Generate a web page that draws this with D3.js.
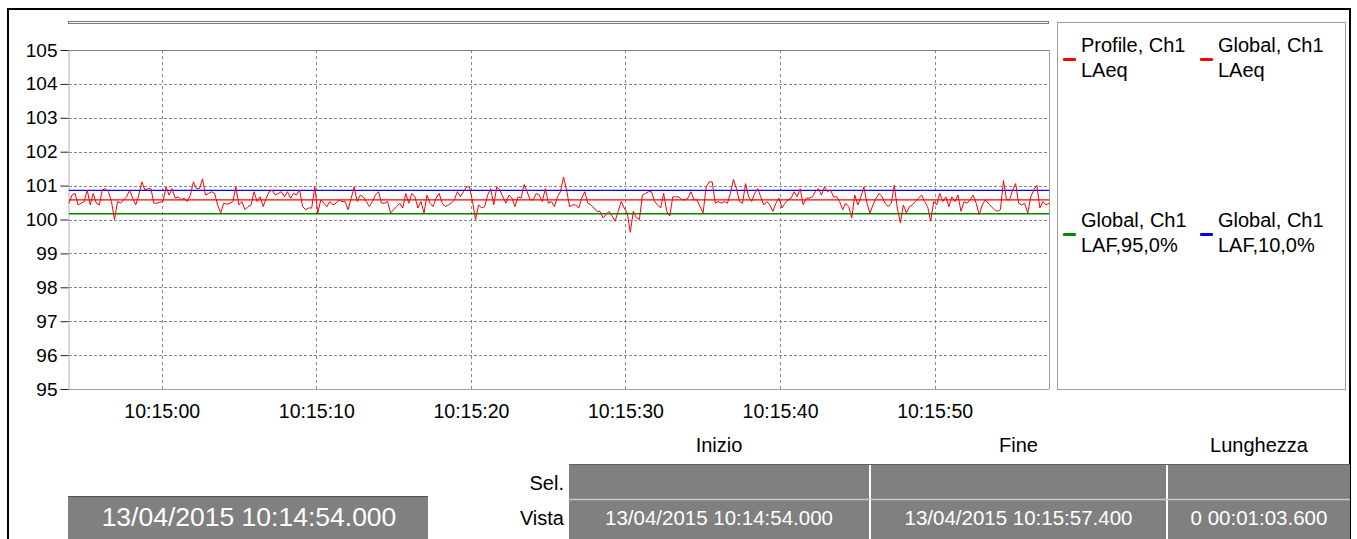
<!DOCTYPE html>
<html>
<head>
<meta charset="utf-8">
<script src="https://cdn.jsdelivr.net/npm/d3@7"></script>
<style>
  body { margin: 0; background: #fff; }
  text { font-family: Arial, "Liberation Sans", sans-serif; }
</style>
</head>
<body>
<svg width="1357" height="539"></svg>
<script>
// view window
const viewStart = "2015-04-13 10:14:54.000";
const viewEnd = "2015-04-13 10:15:57.400";

// Profile, Ch1 LAeq (short Leq samples, dB)
const profile = [
  100.48,100.72,100.77,100.43,100.48,100.53,100.87,100.43,100.77,100.48,
  100.43,100.87,100.91,100.82,100.53,100.00,100.53,100.48,100.58,100.67,
  100.87,100.63,100.43,100.72,101.11,100.87,100.91,100.91,100.48,100.48,
  100.51,100.53,100.96,100.72,100.91,100.63,100.67,100.58,100.63,100.53,
  100.72,101.11,100.91,100.91,101.20,100.72,100.77,100.82,100.77,100.43,
  100.19,100.48,100.45,100.48,100.53,100.96,100.43,100.53,100.29,100.38,
  100.43,100.82,100.53,100.67,100.38,100.63,100.82,100.87,100.72,100.77,
  100.82,100.67,100.82,100.63,100.77,100.72,100.87,100.38,100.29,100.34,
  100.34,100.96,100.19,100.58,100.48,100.38,100.53,100.43,100.48,100.58,
  100.53,100.53,100.29,100.63,100.96,100.53,100.72,100.67,100.53,100.38,
  100.53,100.72,100.82,100.48,100.48,
  100.53,100.19,100.29,100.38,100.48,100.34,100.77,100.48,100.77,100.67,
  100.34,100.53,100.19,100.72,100.48,100.38,100.63,100.77,100.48,100.38,
  100.43,100.48,100.58,100.82,100.67,100.82,100.96,100.96,100.53,100.00,
  100.43,100.34,100.38,100.72,100.91,100.43,100.96,100.87,100.67,100.48,
  100.72,100.63,100.38,100.67,100.63,101.03,100.82,100.58,100.58,100.77,
  100.72,100.53,100.91,100.48,100.53,100.38,100.67,100.82,101.25,100.87,
  100.38,100.43,100.43,100.34,100.63,100.82,100.48,100.43,100.34,100.24,
  100.24,100.05,100.14,100.24,100.10,99.95,100.24,100.53,100.34,100.19,
  99.62,100.24,100.05,100.00,100.72,100.77,100.82,100.82,100.53,100.43,
  100.34,100.77,100.24,100.10,100.67,100.67,100.67,100.58,100.58,100.63,
  100.82,100.58,100.58,100.38,100.19,100.96,101.11,101.11,100.48,
  100.53,100.48,100.53,100.48,100.77,101.18,100.91,100.53,100.48,101.06,
  100.67,100.53,100.77,100.91,100.67,100.43,100.53,100.43,100.24,100.48,
  100.63,100.34,100.48,100.58,100.63,100.82,100.67,100.91,100.43,100.63,
  100.63,100.67,100.82,100.91,100.72,100.96,100.82,100.87,100.67,100.67,
  100.53,100.29,100.48,100.38,100.05,100.72,100.43,100.67,100.96,100.48,
  100.19,100.43,100.63,100.77,100.67,100.48,100.38,100.48,101.01,100.34,
  99.90,100.43,100.19,100.38,100.43,100.53,100.63,100.72,100.53,100.38,
  99.95,100.53,100.43,100.77,100.53,100.67,100.38,100.67,100.53,100.72,
  100.24,100.53,100.48,100.58,100.72,100.48,100.14,100.43,100.58,100.48,
  100.38,100.29,100.24,100.29,101.15,100.58,100.58,100.87,101.06,100.48,
  100.43,100.48,100.19,100.67,100.87,101.01,100.34,100.53,100.43,100.48
];

// global values (dB)
const globalLAeq = 100.58;
const globalLAF95 = 100.17;
const globalLAF10 = 100.86;

const yTicks = [95, 96, 97, 98, 99, 100, 101, 102, 103, 104, 105];
const xTicks = ["10:15:00", "10:15:10", "10:15:20", "10:15:30", "10:15:40", "10:15:50"];

const legendNames = ["Profile, Ch1", "Global, Ch1", "Global, Ch1", "Global, Ch1"];
const legendParams = ["LAeq", "LAeq", "LAF,95,0%", "LAF,10,0%"];
const legendColors = ["#ff0000", "#ff0000", "#008800", "#0000ff"];

const tableHeaders = ["Inizio", "Fine", "Lunghezza"];
const rowLabels = ["Sel.", "Vista"];
const selCells = ["", "", ""];
const vistaCells = ["13/04/2015 10:14:54.000", "13/04/2015 10:15:57.400", "0 00:01:03.600"];
const cursorTime = "13/04/2015 10:14:54.000";

const svg = d3.select("svg");
const parse = d3.timeParse("%Y-%m-%d %H:%M:%S.%L");
const t0 = parse(viewStart), t1 = parse(viewEnd);

const plotLeft = 69, plotRight = 1049, plotTop = 50, plotBottom = 389;

const x = d3.scaleTime().domain([t0, t1]).range([plotLeft, plotRight]);
const y = d3.scaleLinear().domain([95, 105]).range([plotBottom, plotTop]);

// outer frame
svg.append("rect")
  .attr("x", 8).attr("y", 9).attr("width", 1342).attr("height", 600)
  .attr("fill", "none").attr("stroke", "#000").attr("stroke-width", 2);

// scroll bar on top
svg.append("rect")
  .attr("x", 68.5).attr("y", 21.5).attr("width", 980).attr("height", 2)
  .attr("fill", "#fff").attr("stroke", "#777");

// grid
const tickDates = xTicks.map(s => parse("2015-04-13 " + s + ".000"));
svg.append("g")
  .selectAll("line")
  .data(tickDates)
  .join("line")
  .attr("x1", d => Math.round(x(d)) + 0.5).attr("x2", d => Math.round(x(d)) + 0.5)
  .attr("y1", plotTop).attr("y2", plotBottom)
  .attr("stroke", "#888").attr("stroke-dasharray", "3,3");

svg.append("g")
  .selectAll("line")
  .data(yTicks.filter(v => v > 95 && v < 105))
  .join("line")
  .attr("x1", plotLeft).attr("x2", plotRight)
  .attr("y1", d => Math.round(y(d)) + 0.5).attr("y2", d => Math.round(y(d)) + 0.5)
  .attr("stroke", "#888").attr("stroke-dasharray", "3,2");

// plot frame
svg.append("line").attr("x1", plotLeft).attr("x2", plotRight).attr("y1", plotTop + 0.5).attr("y2", plotTop + 0.5)
  .attr("stroke", "#808080");
svg.append("line").attr("x1", plotLeft).attr("x2", plotRight).attr("y1", plotBottom + 0.5).attr("y2", plotBottom + 0.5)
  .attr("stroke", "#a0a0a0");
svg.append("line").attr("x1", plotRight + 0.5).attr("x2", plotRight + 0.5).attr("y1", plotTop).attr("y2", plotBottom)
  .attr("stroke", "#a0a0a0");

// y axis
const yAxis = svg.append("g")
  .attr("transform", `translate(${plotLeft - 0.5},0)`)
  .call(d3.axisLeft(y).tickValues(yTicks).tickFormat(d3.format("d")).tickSize(8).tickPadding(3));
yAxis.select(".domain").attr("stroke", "#b0b0b0");
yAxis.selectAll(".tick line").attr("stroke", "#222");
yAxis.selectAll(".tick text")
  .attr("font-size", 19).attr("fill", "#000")
  .style("font-family", "Arial, 'Liberation Sans', sans-serif");

// x axis labels
const xAxis = svg.append("g")
  .attr("transform", `translate(0,${plotBottom})`)
  .call(d3.axisBottom(x).tickValues(tickDates).tickFormat(d3.timeFormat("%H:%M:%S")).tickSize(0).tickPadding(15));
xAxis.select(".domain").remove();
xAxis.selectAll(".tick text")
  .attr("font-size", 19.5).attr("fill", "#000")
  .style("font-family", "Arial, 'Liberation Sans', sans-serif");

// global level lines
const levels = [
  { v: globalLAF95, c: legendColors[2] },
  { v: globalLAeq, c: legendColors[1] },
  { v: globalLAF10, c: legendColors[3] }
];
svg.append("g")
  .selectAll("line")
  .data(levels)
  .join("line")
  .attr("x1", plotLeft).attr("x2", plotRight)
  .attr("y1", d => y(d.v)).attr("y2", d => y(d.v))
  .attr("stroke", d => d.c).attr("stroke-width", 1.3);

// profile
const step = (t1 - t0) / (profile.length - 1);
const line = d3.line()
  .x((d, i) => x(new Date(+t0 + i * step)))
  .y(d => y(d));
svg.append("path")
  .datum(profile)
  .attr("d", line)
  .attr("fill", "none")
  .attr("stroke", legendColors[0])
  .attr("stroke-width", 1);

// legend
svg.append("rect")
  .attr("x", 1057.5).attr("y", 22.5).attr("width", 288).attr("height", 367)
  .attr("fill", "#fff").attr("stroke", "#a0a0a0");

const legendPos = [
  { x: 1063, y: 52 }, { x: 1200, y: 52 },
  { x: 1063, y: 227 }, { x: 1200, y: 227 }
];
const lg = svg.append("g")
  .selectAll("g")
  .data(legendNames)
  .join("g")
  .attr("transform", (d, i) => `translate(${legendPos[i].x},${legendPos[i].y})`);
lg.append("rect")
  .attr("x", 0).attr("y", 6).attr("width", 13).attr("height", 3).attr("rx", 1)
  .attr("fill", (d, i) => legendColors[i]);
lg.append("text")
  .attr("x", 18).attr("y", 0)
  .attr("font-size", 20)
  .text(d => d);
lg.append("text")
  .attr("x", 18).attr("y", 25)
  .attr("font-size", 20)
  .text((d, i) => legendParams[i]);

// bottom: cursor time box
svg.append("rect")
  .attr("x", 68).attr("y", 496).attr("width", 360).attr("height", 60)
  .attr("fill", "#808080");
svg.append("line").attr("x1", 68).attr("x2", 428).attr("y1", 496.5).attr("y2", 496.5)
  .attr("stroke", "#505050");
svg.append("text")
  .attr("x", 249).attr("y", 526)
  .attr("text-anchor", "middle")
  .attr("font-size", 26.5).attr("fill", "#fff")
  .text(cursorTime);

// bottom: Inizio/Fine/Lunghezza table
const colX = [569, 871, 1168];
const colW = [300, 295, 182];
svg.append("g")
  .selectAll("text")
  .data(tableHeaders)
  .join("text")
  .attr("x", (d, i) => colX[i] + colW[i] / 2)
  .attr("y", 452)
  .attr("text-anchor", "middle")
  .attr("font-size", 20)
  .text(d => d);

svg.append("g")
  .selectAll("text")
  .data(rowLabels)
  .join("text")
  .attr("x", 564)
  .attr("y", (d, i) => i === 0 ? 490 : 525)
  .attr("text-anchor", "end")
  .attr("font-size", 20)
  .text(d => d);

const rows = [selCells, vistaCells];
const rowY = [464, 500];
const rowH = [35, 60];
rows.forEach((cells, r) => {
  const g = svg.append("g");
  g.selectAll("rect")
    .data(cells)
    .join("rect")
    .attr("x", (d, i) => colX[i]).attr("y", rowY[r])
    .attr("width", (d, i) => colW[i]).attr("height", rowH[r])
    .attr("fill", "#808080");
  g.selectAll("text")
    .data(cells)
    .join("text")
    .attr("x", (d, i) => colX[i] + colW[i] / 2)
    .attr("y", rowY[r] + 25)
    .attr("text-anchor", "middle")
    .attr("font-size", 20.5).attr("fill", "#fff")
    .text(d => d);
});
// light separators
svg.append("line").attr("x1", 569).attr("x2", 1350).attr("y1", 499.5).attr("y2", 499.5)
  .attr("stroke", "#c8c8c8").attr("stroke-width", 1.5);
svg.append("line").attr("x1", 569).attr("x2", 1350).attr("y1", 464.5).attr("y2", 464.5)
  .attr("stroke", "#606060");
</script>
</body>
</html>
